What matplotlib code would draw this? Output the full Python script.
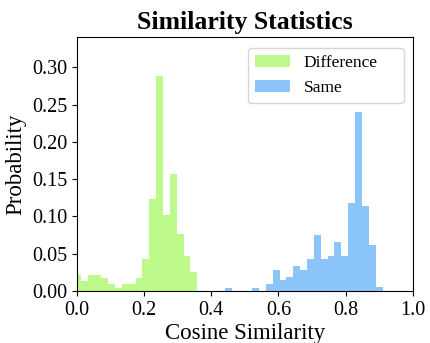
import numpy as np
import matplotlib.pyplot as plt

# Datos: probabilidad por bin (bins compartidos)
bin_start = -0.0095
bin_width = 0.02043
n_bins = 45

diff_first_bin = 0
diff_prob = [0.021, 0.0134, 0.021, 0.021, 0.017, 0.009, 0.0036, 0.009, 0.009,
             0.017, 0.0426, 0.123, 0.2885, 0.1017, 0.157, 0.076, 0.0466, 0.0255]

same_first_bin = 22
same_prob = [0.0045, 0.0, 0.0, 0.0, 0.0045, 0.0, 0.009, 0.0278, 0.0143, 0.0184,
             0.033, 0.0278, 0.0426, 0.0748, 0.0426, 0.0466, 0.0654, 0.0466,
             0.1178, 0.2401, 0.1138, 0.0614, 0.0049]

edges = bin_start + bin_width * np.arange(n_bins + 1)
centers = (edges[:-1] + edges[1:]) / 2

plt.rcParams['font.family'] = ['Liberation Serif', 'DejaVu Serif']

fig = plt.figure(figsize=(4.3, 3.43), dpi=100)
ax = fig.add_axes([0.179, 0.1516, 0.781, 0.7394])

d = slice(diff_first_bin, diff_first_bin + len(diff_prob))
s = slice(same_first_bin, same_first_bin + len(same_prob))
ax.hist(centers[d], bins=edges, weights=diff_prob, color='#7df519', alpha=0.5,
        label='Difference')
ax.hist(centers[s], bins=edges, weights=same_prob, color='#198cf5', alpha=0.5,
        label='Same')

ax.set_xlim(0, 1.0)
ax.set_ylim(0, 0.34)
ax.set_xticks(np.arange(0, 1.01, 0.2))
ax.set_yticks(np.arange(0, 0.31, 0.05))
ax.xaxis.set_major_formatter(plt.FormatStrFormatter('%.1f'))
ax.yaxis.set_major_formatter(plt.FormatStrFormatter('%.2f'))
ax.tick_params(labelsize=14.5)

ax.set_title('Similarity Statistics', fontsize=18.5, fontweight='bold', pad=6)
ax.set_xlabel('Cosine Similarity', fontsize=16.5, labelpad=2)
ax.set_ylabel('Probability', fontsize=16.5, labelpad=4)
ax.legend(loc='upper right', fontsize=12.5, mode='expand',
          bbox_to_anchor=(0.509, 0.5, 0.464, 0.457), borderaxespad=0)

plt.savefig('out.png', dpi=100)
